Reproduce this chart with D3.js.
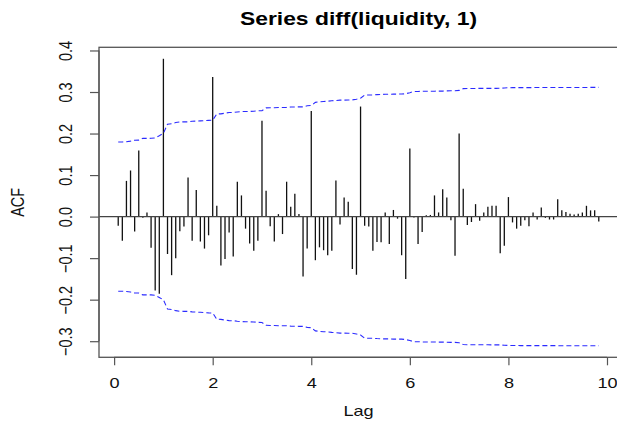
<!DOCTYPE html>
<html>
<head>
<meta charset="utf-8">
<script src="https://cdn.jsdelivr.net/npm/d3@7"></script>
<style>
  html, body { margin: 0; padding: 0; background: #fff; }
  svg { display: block; font-family: "Liberation Sans", Arial, sans-serif; }
</style>
</head>
<body>
<svg id="chart" width="617" height="424"></svg>
<script>
// ---- data ----
const title = "Series diff(liquidity, 1)";
const xLabel = "Lag";
const yLabel = "ACF";
const lagsPerUnit = 12;           // monthly series: lag k shown as k/12
const nObs = 119;                 // series length behind the "ma" confidence band
const acfValues = [
  -0.022, -0.058, 0.086, 0.111, -0.036, 0.159, -0.003, 0.010, -0.075, -0.178, -0.186, 0.380,
  -0.090, -0.141, -0.100, -0.035, -0.024, 0.094, -0.058, 0.064, -0.060, -0.077, -0.045, 0.336,
  0.026, -0.118, -0.102, -0.038, -0.096, 0.084, 0.051, -0.029, -0.065, -0.082, -0.058, 0.231,
  0.062, -0.023, -0.060, 0.006, -0.042, 0.084, 0.024, 0.055, 0.006, -0.144, -0.077, 0.254,
  -0.105, -0.074, -0.081, -0.093, -0.082, 0.087, -0.019, 0.046, 0.036, -0.126, -0.140, 0.265,
  -0.022, -0.024, -0.082, -0.061, -0.062, 0.010, -0.066, 0.016, -0.005, -0.093, -0.150, 0.164,
  -0.002, -0.066, -0.037, 0.003, 0.004, 0.051, 0.010, 0.066, 0.046, -0.009, -0.094, 0.200,
  0.067, -0.020, -0.013, 0.030, -0.010, 0.010, 0.024, 0.026, 0.026, -0.088, -0.070, 0.047,
  -0.014, -0.029, -0.022, -0.009, -0.023, 0.010, -0.007, 0.022, -0.003, -0.007, -0.007, 0.042,
  0.015, 0.011, 0.007, 0.005, 0.007, 0.010, 0.026, 0.015, 0.015, -0.012
];
const xTicks = [0, 2, 4, 6, 8, 10];
const yTicks = [-0.3, -0.2, -0.1, 0.0, 0.1, 0.2, 0.3, 0.4];

// ---- derived ----
const lags = acfValues.map((v, i) => (i + 1) / lagsPerUnit);
// Moving-average (Bartlett) 95% band, as R's plot.acf(ci.type = "ma")
const z = 1.959964;
let cum = 1;
const ciUpper = acfValues.map((v, i) => {
  const c = z * Math.sqrt(cum / nObs);
  cum += 2 * v * v;
  return c;
});

// ---- layout ----
const svg = d3.select("#chart");
const box = { left: 99, right: 618, top: 47.3, bottom: 357.3 };
const stretch = 1.25;             // the picture is widened horizontally
const fs = 14.5;

const xMin = d3.min(lags), xMax = d3.max(lags);
const xPad = 0.04 * (xMax - xMin);
const x = d3.scaleLinear().domain([xMin - xPad, xMax + xPad]).range([box.left, box.right]);

const yLo = Math.min(d3.min(acfValues), -d3.max(ciUpper));
const yHi = Math.max(d3.max(acfValues), d3.max(ciUpper));
const yPad = 0.04 * (yHi - yLo);
const y = d3.scaleLinear().domain([yLo - yPad, yHi + yPad]).range([box.bottom, box.top]);

// title
svg.append("text")
  .attr("transform", `translate(${(box.left + box.right) / 2},25) scale(${stretch},1)`)
  .attr("text-anchor", "middle")
  .attr("font-size", 18.3).attr("font-weight", "bold")
  .attr("fill", "#000")
  .text(title);

// bars
svg.append("g").selectAll("line").data(acfValues).join("line")
  .attr("x1", (d, i) => x(lags[i])).attr("x2", (d, i) => x(lags[i]))
  .attr("y1", y(0)).attr("y2", d => y(d))
  .attr("stroke", "#111").attr("stroke-width", 1.3);

// zero line
svg.append("line")
  .attr("x1", box.left).attr("x2", box.right)
  .attr("y1", y(0)).attr("y2", y(0))
  .attr("stroke", "#444").attr("stroke-width", 1.2);

// confidence band
const ciLine = d3.line().x((d, i) => x(lags[i]));
svg.append("path")
  .attr("d", ciLine.y(d => y(d))(ciUpper))
  .attr("fill", "none").attr("stroke", "#2b2bff").attr("stroke-width", 1.1)
  .attr("stroke-dasharray", "5,3");
svg.append("path")
  .attr("d", ciLine.y(d => y(-d))(ciUpper))
  .attr("fill", "none").attr("stroke", "#2b2bff").attr("stroke-width", 1.1)
  .attr("stroke-dasharray", "5,3");

// box
svg.append("rect")
  .attr("x", box.left).attr("y", box.top)
  .attr("width", box.right - box.left).attr("height", box.bottom - box.top)
  .attr("fill", "none").attr("stroke", "#555").attr("stroke-width", 1.3);

// x axis
const xAxis = d3.axisBottom(x).tickValues(xTicks).tickFormat(d3.format("d"))
  .tickSize(8).tickPadding(12);
const gx = svg.append("g").attr("transform", `translate(0,${box.bottom})`).call(xAxis);
gx.select(".domain").attr("d", `M${x(xTicks[0])},0H${x(xTicks[xTicks.length - 1])}`)
  .attr("stroke", "#555").attr("stroke-width", 1.2);
gx.selectAll(".tick line").attr("stroke", "#555").attr("stroke-width", 1.2);
gx.selectAll(".tick text")
  .attr("font-size", fs).attr("fill", "#111")
  .attr("font-family", "Liberation Sans, Arial, sans-serif")
  .attr("dy", null).attr("y", null)
  .attr("transform", `translate(0,${8 + 12 + 0.716 * fs}) scale(${stretch},1)`);

// y axis
const yAxis = d3.axisLeft(y).tickValues(yTicks).tickFormat(d3.format(".1f")).tickSize(9);
const gy = svg.append("g").attr("transform", `translate(${box.left},0)`).call(yAxis);
gy.select(".domain").attr("d", `M0,${y(yTicks[0])}V${y(yTicks[yTicks.length - 1])}`)
  .attr("stroke", "#555").attr("stroke-width", 1.2);
gy.selectAll(".tick line").attr("stroke", "#555").attr("stroke-width", 1.2);
gy.selectAll(".tick text")
  .attr("font-size", fs).attr("fill", "#111")
  .attr("font-family", "Liberation Sans, Arial, sans-serif")
  .attr("text-anchor", "middle").attr("dy", null)
  .attr("x", null).attr("y", 0)
  .attr("transform", `translate(-27.5,0) scale(${stretch},1) rotate(-90)`);

// axis titles
svg.append("text")
  .attr("transform", `translate(${(box.left + box.right) / 2},416) scale(${stretch},1)`)
  .attr("text-anchor", "middle").attr("font-size", fs).attr("fill", "#111")
  .text(xLabel);
svg.append("text")
  .attr("transform", `translate(23.5,${(box.top + box.bottom) / 2}) scale(${stretch},1) rotate(-90)`)
  .attr("text-anchor", "middle").attr("font-size", fs).attr("fill", "#111")
  .text(yLabel);
</script>
</body>
</html>
